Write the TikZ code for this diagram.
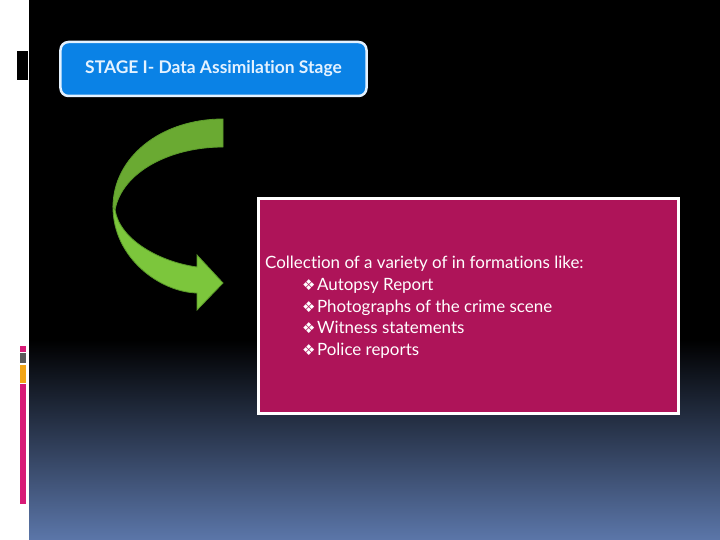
\documentclass[tikz,border=0pt]{standalone}
\usepackage{fontspec}
\setmainfont{Lato}[Ligatures={NoCommon}]
\newfontfamily\symfont{DejaVu Sans}
\definecolor{bgblue}{HTML}{5B76A9}
\definecolor{boxblue}{HTML}{0A82E6}
\definecolor{boxborder}{HTML}{E4F2FF}
\definecolor{magbox}{HTML}{AE1459}
\definecolor{gdark}{HTML}{6AAA32}
\definecolor{glight}{HTML}{7CC63C}
\definecolor{gline}{HTML}{5A9A2A}
\definecolor{barpink}{HTML}{D81B77}
\definecolor{bargray}{HTML}{5A5A5A}
\definecolor{barorange}{HTML}{F2A516}
\tikzset{
  txtline/.style={anchor=base west, inner sep=0pt, text=white, font=\fontsize{17}{20}\selectfont},
}
\newcommand{\dia}{{\symfont\fontsize{15}{16}\selectfont ❖}\hspace{1.5bp}}
\begin{document}
\begin{tikzpicture}[x=1bp,y=-1bp]
\useasboundingbox (0,0) rectangle (720,540);
\fill[white] (0,0) rectangle (720,540);
% background panel
\fill[black] (29,0) rectangle (720,341);
\shade[top color=black, bottom color=bgblue] (29,340) rectangle (720,540);
% left decorations
\fill[black] (17,51) rectangle (28,80);
\fill[barpink] (20,346) rectangle (26,352);
\fill[bargray] (20,353) rectangle (26,363);
\fill[barorange] (20,365) rectangle (26,383);
\fill[barpink] (20,384) rectangle (26,504);
% title box
\node[draw=boxborder, line width=2.5bp, fill=boxblue, rounded corners=8bp,
      minimum width=306bp, minimum height=54bp, inner sep=0pt,
      text=boxborder, font=\bfseries\fontsize{17.5}{20}\selectfont]
  (title) at (213.5,69) {STAGE I- Data Assimilation Stage};
% green curved arrow
\filldraw[fill=gdark, draw=gline, line width=0.8bp]
  (223,119) .. controls (160,119) and (113,158) .. (113,207)
  -- (115,210) .. controls (122,172) and (170,147) .. (223,147) -- cycle;
\filldraw[fill=glight, draw=gline, line width=0.8bp]
  (113,207) .. controls (113,258) and (160,292) .. (197,293)
  -- (197,310) -- (223,283) -- (197,255) -- (197,267)
  .. controls (160,262) and (120,240) .. (115,210) -- cycle;
% magenta box
\node[draw=white, line width=2.5bp, fill=magbox, minimum width=420bp,
      minimum height=215bp, inner sep=0pt] (info) at (468.5,306) {};
\node[txtline] (l0) at (265,269) {Collection of a variety of in formations like:};
\node[txtline] (l1) at (302,290.5) {\dia Autopsy Report};
\node[txtline] (l2) at (302,312) {\dia Photographs of the crime scene};
\node[txtline] (l3) at (302,333.5) {\dia Witness statements};
\node[txtline] (l4) at (302,355) {\dia Police reports};
\end{tikzpicture}
\end{document}
